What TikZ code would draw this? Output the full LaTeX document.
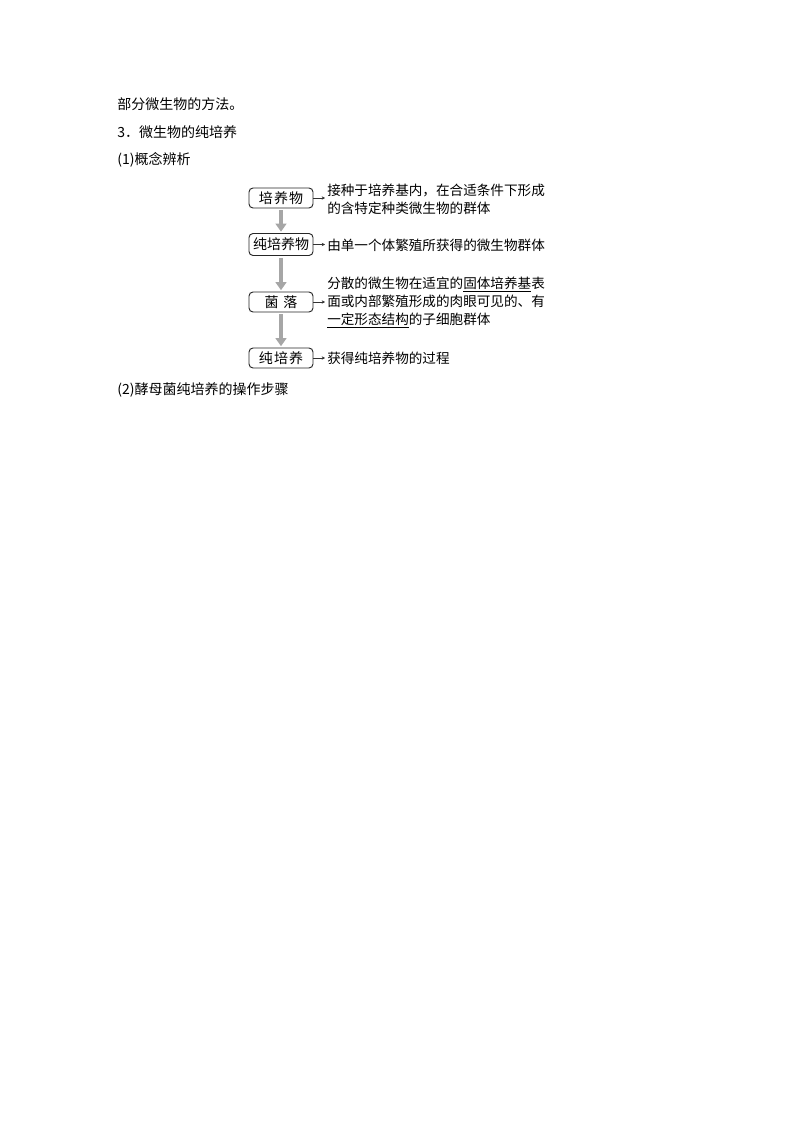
\documentclass[tikz,border=0pt]{standalone}
\usepackage{fontspec}
\setmainfont{Liberation Serif}
\newfontfamily\cjk{Noto Sans CJK SC}
\usetikzlibrary{arrows.meta}
\tikzset{
  boxnode/.style={draw=black!85, line width=0.7pt, rounded corners=3pt, minimum width=48pt, minimum height=15pt, inner sep=0pt, font=\cjk\fontsize{10.5}{12}\selectfont},
  desc/.style={anchor=west, inner xsep=1.5pt, inner ysep=0pt, align=left, font=\cjk\fontsize{10.2}{13.5}\selectfont},
  head/.style={anchor=west, inner sep=0pt, font=\cjk\fontsize{10.5}{12}\selectfont},
  bigarrow/.style={draw=black!35, line width=3pt, -{Triangle[length=6pt,width=8pt]}, shorten >=1pt, shorten <=1.5pt},
  smallarrow/.style={draw=black!80, line width=0.5pt, -{Stealth[length=2.5pt,width=2.5pt]}}
}
\begin{document}
\begin{tikzpicture}[x=0.75pt,y=-0.75pt]
\useasboundingbox[fill=white] (0,0) rectangle (794,1123);
\node[head] (h0) at (117,104) {部分微生物的方法。};
\node[head] (h1) at (117,132) {3．微生物的纯培养};
\node[head] (h2) at (117,160) {(1)概念辨析};
\node[head] (h3) at (117,390) {(2)酵母菌纯培养的操作步骤};

\node[boxnode] (b1) at (281,198) {培\hspace{0.8pt}养\hspace{0.8pt}物};
\node[boxnode, minimum height=16.5pt] (b2) at (281,244.5) {纯培养物};
\node[boxnode] (b3) at (281,302) {菌\hspace{3.5pt}落};
\node[boxnode] (b4) at (281,358) {纯\hspace{0.8pt}培\hspace{0.8pt}养};

\node[desc] (t1) at (325,199) {接种于培养基内，在合适条件下形成\\的含特定种类微生物的群体};
\node[desc] (t2) at (325,245) {由单一个体繁殖所获得的微生物群体};
\node[desc] (t3) at (325,302.5) {分散的微生物在适宜的\underline{固体培养基}表\\面或内部繁殖形成的肉眼可见的、有\\\underline{一定形态结构}的子细胞群体};
\node[desc] (t4) at (325,358) {获得纯培养物的过程};

\draw[bigarrow] (b1) -- (b2);
\draw[bigarrow] (b2) -- (b3);
\draw[bigarrow] (b3) -- (b4);

\draw[smallarrow] (b1.east) -- (t1.west |- b1.east);
\draw[smallarrow] (b2.east) -- (t2.west |- b2.east);
\draw[smallarrow] (b3.east) -- (t3.west |- b3.east);
\draw[smallarrow] (b4.east) -- (t4.west |- b4.east);
\end{tikzpicture}
\end{document}
